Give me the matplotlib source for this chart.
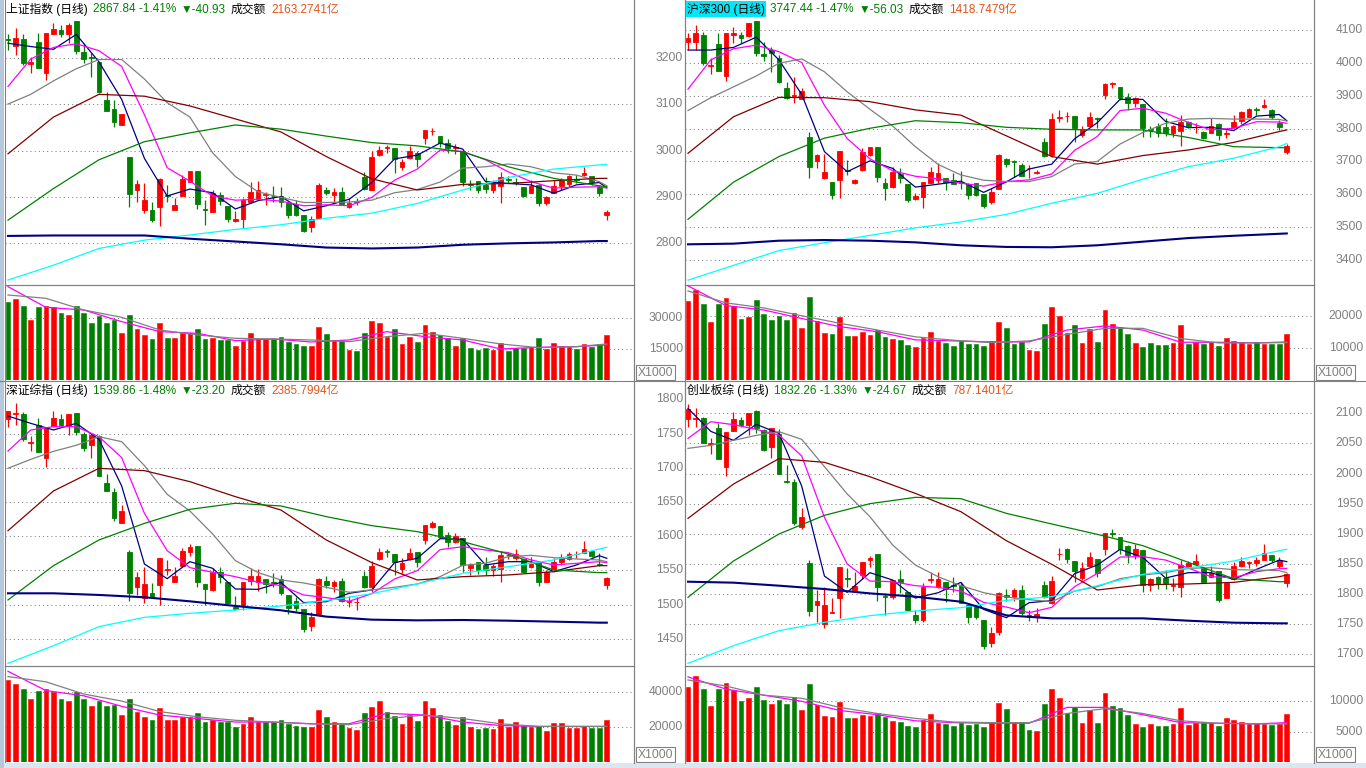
import numpy as np
import matplotlib
matplotlib.use('Agg')
import matplotlib.pyplot as plt
from matplotlib.transforms import blended_transform_factory
from matplotlib.lines import Line2D
from matplotlib.patches import Rectangle

# ---------------- data ----------------
fast_idx = list(range(0, 79, 3)) + [79]
slow_idx = list(range(0, 79, 6)) + [79]
vol_idx = list(range(0, 79, 5)) + [79]

# 上证指数
sh_o = [3240, 3226, 3240, 3186, 3233, 3166, 3250, 3260, 3250, 3279, 3213, 3201, 3191, 3109, 3089, 3054, 2985, 2915, 2872, 2872,
        2879, 2904, 2872, 2902, 2933, 2956, 2873, 2868, 2904, 2881, 2849, 2852, 2890, 2896, 2904, 2903, 2901, 2886, 2885, 2861,
        2835, 2855, 2916, 2904, 2911, 2879, 2891, 2944, 2916, 2990, 3006, 3005, 2965, 2983, 2994, 3026, 3041, 3031, 3017, 3006,
        2998, 2927, 2934, 2926, 2915, 2924, 2939, 2933, 2921, 2909, 2926, 2886, 2909, 2924, 2927, 2939, 2947, 2945, 2922, 2861]
sh_c = [3239, 3242, 3189, 3190, 3178, 3254, 3261, 3250, 3270, 3215, 3197, 3199, 3125, 3086, 3062, 3078, 2906, 2927, 2893, 2850,
        2939, 2901, 2883, 2939, 2956, 2884, 2871, 2908, 2892, 2853, 2853, 2893, 2910, 2915, 2906, 2901, 2890, 2861, 2861, 2827,
        2853, 2926, 2908, 2911, 2885, 2888, 2889, 2917, 2987, 3001, 3008, 2982, 2976, 2998, 2981, 3044, 3042, 3016, 3005, 3008,
        2933, 2926, 2916, 2917, 2931, 2942, 2937, 2931, 2901, 2924, 2888, 2899, 2924, 2937, 2945, 2937, 2952, 2932, 2909, 2868]
sh_h = [3252, 3263, 3252, 3201, 3254, 3254, 3274, 3270, 3274, 3279, 3231, 3209, 3191, 3127, 3109, 3078, 2985, 2937, 2929, 2890,
        2940, 2926, 2897, 2947, 2956, 2956, 2893, 2915, 2911, 2881, 2869, 2897, 2932, 2934, 2911, 2924, 2922, 2890, 2893, 2861,
        2859, 2929, 2922, 2919, 2922, 2897, 2897, 2953, 2998, 3010, 3012, 3005, 2981, 3010, 2998, 3044, 3048, 3031, 3024, 3013,
        2998, 2937, 2934, 2944, 2937, 2953, 2946, 2940, 2921, 2937, 2927, 2903, 2937, 2940, 2947, 2947, 2964, 2945, 2926, 2872]
sh_l = [3216, 3206, 3184, 3168, 3178, 3152, 3250, 3244, 3231, 3208, 3188, 3158, 3123, 3086, 3051, 3054, 2878, 2890, 2866, 2845,
        2837, 2890, 2872, 2901, 2933, 2874, 2840, 2868, 2883, 2847, 2847, 2834, 2888, 2893, 2883, 2890, 2879, 2854, 2858, 2824,
        2825, 2855, 2904, 2886, 2885, 2876, 2883, 2915, 2916, 2989, 2995, 2951, 2958, 2982, 2965, 3014, 3033, 3008, 2994, 2993,
        2924, 2915, 2909, 2909, 2908, 2888, 2931, 2926, 2899, 2908, 2881, 2883, 2908, 2915, 2922, 2931, 2945, 2926, 2903, 2850]
sh_vol = [37906, 39357, 35970, 29195, 35325, 35970, 35325, 32583, 31615, 35970, 32583, 27744, 31131, 27744, 29195, 22905,
          31615, 24840, 21937, 20001, 27744, 20485, 20485, 22905, 22905, 24840, 20001, 20485, 19517, 19517, 16614, 19033,
          22905, 20001, 20001, 20001, 20969, 18550, 17582, 16614, 16614, 25808, 22421, 19517, 19033, 14678, 14194, 22905,
          28711, 27744, 20969, 24679, 17582, 21130, 18550, 26776, 23227, 21937, 20485, 16614, 20485, 15646, 14678, 15646,
          14678, 18066, 14194, 15646, 15646, 16130, 20485, 15162, 18066, 16614, 16130, 15162, 17582, 16130, 17582, 21937]
sh_ma5 = [3231, 3224, 3218, 3250, 3191, 3110, 2983, 2902, 2917, 2909, 2874, 2892, 2901, 2870, 2881, 2895, 2931, 2982,
          2990, 3016, 3003, 2933, 2929, 2926, 2908, 2926, 2931, 2920]
sh_ma10 = [3138, 3197, 3222, 3230, 3215, 3181, 3077, 2963, 2934, 2902, 2893, 2895, 2891, 2881, 2883, 2881, 2899, 2936,
           2960, 3001, 2998, 2980, 2954, 2933, 2919, 2921, 2922, 2919]
sh_ma20 = [3100, 3121, 3150, 3176, 3196, 3196, 3154, 3103, 3072, 2995, 2944, 2911, 2899, 2888, 2888, 2889, 2893, 2909,
           2916, 2932, 2962, 2965, 2971, 2965, 2952, 2947, 2933, 2924]
sh_ma30 = [2993, 3072, 3121, 3117, 3096, 3068, 3040, 2987, 2939, 2915, 2927, 2929, 2935, 2940, 2940]
sh_ma60 = [2850, 2918, 2980, 3019, 3038, 3055, 3046, 3031, 3017, 3010, 2997, 2965, 2940, 2924, 2922]
sh_ma120 = [2721, 2753, 2789, 2807, 2818, 2830, 2840, 2854, 2865, 2886, 2915, 2942, 2960, 2969, 2970]
sh_ma250 = [2816, 2817, 2817, 2817, 2810, 2804, 2798, 2791, 2789, 2791, 2797, 2800, 2802, 2805, 2805]
sh_vma5 = [45325, 35325, 34034, 28389, 23550, 22743, 19195, 20001, 18550, 19517, 23550, 21130, 19517, 15162, 15969, 16291, 17098]
sh_vma10 = [41293, 39680, 34034, 30486, 24357, 21937, 20324, 20001, 19517, 18711, 21130, 22743, 20324, 17582, 15807, 16291, 17582]

# 沪深300
hs_o = [4065, 4065, 4085, 3991, 4056, 3960, 4085, 4085, 4082, 4128, 4026, 4039, 4014, 3923, 3899, 3889, 3776, 3701, 3651, 3639,
        3644, 3674, 3634, 3674, 3720, 3745, 3634, 3621, 3662, 3631, 3587, 3593, 3634, 3644, 3649, 3644, 3639, 3632, 3636, 3601,
        3578, 3616, 3707, 3701, 3689, 3679, 3664, 3760, 3720, 3833, 3837, 3838, 3781, 3808, 3832, 3902, 3937, 3926, 3897, 3877,
        3874, 3798, 3809, 3806, 3786, 3794, 3819, 3804, 3791, 3788, 3814, 3783, 3806, 3823, 3836, 3861, 3865, 3857, 3818, 3730]
hs_c = [4077, 4090, 4001, 3994, 3976, 4090, 4090, 4075, 4122, 4029, 4022, 4031, 3943, 3892, 3902, 3915, 3684, 3720, 3667, 3598,
        3732, 3670, 3644, 3728, 3745, 3652, 3618, 3669, 3651, 3583, 3595, 3637, 3669, 3665, 3639, 3631, 3636, 3598, 3598, 3565,
        3608, 3720, 3692, 3698, 3657, 3681, 3669, 3717, 3829, 3835, 3839, 3803, 3798, 3834, 3829, 3936, 3939, 3894, 3877, 3892,
        3801, 3795, 3786, 3788, 3808, 3821, 3808, 3806, 3770, 3808, 3781, 3788, 3819, 3850, 3860, 3858, 3872, 3836, 3806, 3747]
hs_h = [4090, 4115, 4095, 4014, 4090, 4090, 4108, 4095, 4122, 4128, 4065, 4049, 4024, 3943, 3956, 3923, 3791, 3723, 3722, 3639,
        3732, 3705, 3647, 3740, 3745, 3745, 3649, 3684, 3679, 3631, 3603, 3639, 3684, 3694, 3649, 3666, 3672, 3636, 3636, 3601,
        3620, 3723, 3710, 3705, 3694, 3689, 3674, 3770, 3847, 3857, 3852, 3838, 3809, 3852, 3834, 3938, 3943, 3926, 3907, 3897,
        3874, 3808, 3816, 3831, 3811, 3841, 3824, 3816, 3793, 3831, 3818, 3796, 3841, 3854, 3862, 3865, 3890, 3859, 3826, 3753]
hs_l = [4039, 4039, 3994, 3966, 3976, 3946, 4060, 4060, 4080, 4021, 4007, 3973, 3940, 3889, 3877, 3889, 3649, 3679, 3646, 3586,
        3590, 3659, 3632, 3672, 3718, 3639, 3583, 3618, 3636, 3578, 3583, 3557, 3634, 3634, 3613, 3631, 3615, 3585, 3595, 3557,
        3571, 3616, 3684, 3654, 3657, 3649, 3662, 3715, 3715, 3821, 3821, 3760, 3774, 3806, 3801, 3889, 3923, 3887, 3857, 3865,
        3776, 3776, 3776, 3778, 3774, 3747, 3801, 3788, 3768, 3788, 3765, 3770, 3801, 3814, 3834, 3841, 3862, 3829, 3796, 3722]
hs_vol = [24430, 28010, 23798, 18112, 23798, 25377, 23166, 19059, 19691, 24746, 20639, 18743, 20007, 18743, 20849, 16216,
          25693, 18428, 14637, 14321, 19691, 13689, 13689, 14953, 14005, 15584, 13478, 12741, 12425, 10846, 10319, 13163,
          14847, 12110, 11583, 10741, 12215, 11372, 11372, 10530, 12110, 18112, 16322, 11372, 11899, 9266, 8951, 17480,
          22850, 20007, 14742, 17164, 11583, 15900, 11794, 21902, 17480, 16532, 14321, 11583, 10214, 11583, 10846, 10846,
          11583, 17164, 11162, 11794, 11372, 11794, 10530, 13057, 12320, 11794, 11267, 11794, 11267, 11267, 11267, 14426]
hs_ma5 = [4039, 4039, 4047, 4078, 4009, 3904, 3730, 3669, 3702, 3679, 3622, 3631, 3640, 3606, 3638, 3677, 3692, 3769,
          3818, 3889, 3889, 3822, 3803, 3804, 3794, 3838, 3843, 3824]
hs_ma10 = [3920, 4009, 4043, 4054, 4034, 4001, 3871, 3770, 3708, 3672, 3655, 3647, 3634, 3625, 3639, 3644, 3662, 3734,
           3776, 3855, 3862, 3847, 3819, 3796, 3801, 3821, 3820, 3816]
hs_ma20 = [3855, 3894, 3927, 3960, 3999, 4012, 3973, 3912, 3859, 3808, 3745, 3691, 3659, 3643, 3639, 3639, 3654, 3692,
           3700, 3753, 3788, 3816, 3829, 3831, 3829, 3829, 3828, 3823]
hs_ma30 = [3725, 3836, 3895, 3894, 3882, 3857, 3841, 3778, 3715, 3692, 3718, 3735, 3758, 3791, 3796]
hs_ma60 = [3524, 3637, 3715, 3771, 3801, 3824, 3818, 3804, 3798, 3796, 3796, 3773, 3745, 3742, 3742]
hs_ma120 = [3339, 3384, 3429, 3453, 3475, 3498, 3516, 3539, 3573, 3603, 3646, 3684, 3710, 3745, 3755]
hs_ma250 = [3448, 3450, 3459, 3461, 3459, 3454, 3445, 3440, 3439, 3445, 3456, 3467, 3474, 3480, 3481]
hs_vma5 = [29273, 23166, 21797, 19165, 16637, 15058, 12530, 12215, 11899, 11899, 15584, 16848, 15584, 11794, 11794, 11583, 11899]
hs_vma10 = [27694, 24008, 22429, 20007, 17690, 15584, 13478, 12425, 11688, 12215, 14216, 16111, 16111, 12952, 11583, 11583, 11688]

# 深证综指
sz_o = [1770.7, 1778.0, 1778.0, 1736.7, 1762.5, 1714.8, 1761.5, 1771.2, 1761.5, 1779.5, 1749.3, 1733.3, 1746.4, 1677.3,
        1665.1, 1618.8, 1577.4, 1526.3, 1509.3, 1516.6, 1528.8, 1551.2, 1533.6, 1556.5, 1577.4, 1585.7, 1530.2, 1521.5,
        1548.2, 1533.6, 1497.1, 1498.1, 1534.6, 1533.6, 1537.0, 1533.6, 1537.0, 1514.2, 1505.9, 1493.2, 1468.9, 1484.9,
        1534.6, 1527.8, 1534.6, 1503.9, 1503.4, 1541.9, 1526.3, 1566.7, 1578.0, 1574.0, 1552.1, 1566.2, 1576.5, 1594.5,
        1614.0, 1615.0, 1601.8, 1592.1, 1596.9, 1553.1, 1561.9, 1558.0, 1550.7, 1551.6, 1572.1, 1568.7, 1566.2, 1554.6,
        1562.8, 1533.6, 1552.1, 1562.8, 1566.7, 1573.5, 1576.0, 1578.9, 1559.4, 1528.8]
sz_c = [1782.9, 1779.5, 1741.5, 1738.1, 1723.5, 1760.0, 1773.2, 1762.5, 1778.5, 1752.7, 1728.4, 1747.9, 1688.5, 1666.1,
        1626.1, 1636.8, 1516.6, 1540.0, 1530.2, 1511.7, 1567.7, 1552.1, 1541.9, 1578.4, 1584.8, 1533.6, 1522.4, 1547.3,
        1540.9, 1503.0, 1493.2, 1532.6, 1541.9, 1541.9, 1530.2, 1532.2, 1516.6, 1494.7, 1495.6, 1464.0, 1482.5, 1537.5,
        1528.8, 1533.1, 1505.9, 1505.4, 1504.4, 1526.3, 1556.5, 1576.5, 1577.0, 1561.9, 1561.4, 1576.0, 1562.8, 1616.4,
        1619.8, 1599.4, 1591.1, 1600.8, 1558.0, 1558.0, 1550.7, 1550.7, 1556.5, 1572.6, 1573.1, 1574.0, 1548.2, 1559.4,
        1532.6, 1547.3, 1562.8, 1570.1, 1574.0, 1574.5, 1581.3, 1571.6, 1558.0, 1538.5]
sz_h = [1782.9, 1794.1, 1781.0, 1746.4, 1772.2, 1760.0, 1782.9, 1778.0, 1778.5, 1779.5, 1752.7, 1750.3, 1747.9, 1690.4,
        1670.0, 1645.6, 1579.9, 1548.2, 1554.6, 1531.2, 1567.7, 1565.3, 1555.5, 1582.3, 1588.2, 1585.7, 1530.2, 1553.1,
        1554.6, 1533.6, 1512.7, 1533.6, 1553.1, 1552.1, 1537.0, 1545.8, 1543.4, 1514.2, 1510.8, 1493.2, 1489.8, 1538.5,
        1541.9, 1536.1, 1538.5, 1512.7, 1511.7, 1549.2, 1563.8, 1582.3, 1580.9, 1574.0, 1567.7, 1582.3, 1576.5, 1616.4,
        1622.2, 1615.0, 1605.7, 1604.2, 1596.9, 1560.4, 1562.8, 1569.2, 1559.0, 1578.4, 1576.0, 1581.3, 1566.2, 1570.1,
        1562.8, 1550.7, 1568.7, 1573.5, 1577.4, 1578.4, 1593.0, 1579.9, 1575.0, 1540.9]
sz_l = [1760.0, 1762.5, 1739.1, 1725.0, 1723.5, 1701.6, 1760.0, 1761.5, 1747.9, 1747.9, 1725.0, 1713.8, 1688.5, 1666.1,
        1622.7, 1618.8, 1505.9, 1514.2, 1503.0, 1509.3, 1499.6, 1543.4, 1532.6, 1555.5, 1571.6, 1526.3, 1499.6, 1520.5,
        1532.2, 1501.0, 1492.2, 1492.2, 1528.8, 1520.5, 1516.6, 1526.3, 1514.2, 1486.4, 1491.3, 1459.6, 1462.1, 1484.9,
        1523.9, 1518.0, 1504.4, 1497.1, 1492.2, 1523.9, 1519.0, 1565.3, 1570.1, 1543.4, 1546.8, 1565.3, 1554.6, 1588.2,
        1611.5, 1598.4, 1584.7, 1589.6, 1547.3, 1543.4, 1544.3, 1543.4, 1542.4, 1532.6, 1566.7, 1565.3, 1547.3, 1553.1,
        1527.8, 1532.6, 1550.7, 1558.0, 1565.3, 1567.7, 1575.0, 1570.1, 1557.0, 1522.9]
sz_vol = [47000, 45000, 42000, 36000, 41000, 42000, 40000, 36000, 35000, 40000, 36000, 32000, 35000, 32000, 33000, 27000,
          36000, 29000, 26000, 24000, 31000, 24000, 24000, 26000, 26000, 28000, 23000, 24000, 23000, 23000, 20000, 22000,
          26000, 23000, 23000, 23000, 24000, 22000, 21000, 20000, 20000, 30000, 26000, 23000, 22000, 19812, 18479, 28385,
          31814, 35243, 28766, 26670, 21908, 27051, 23622, 35243, 30861, 27051, 23622, 21336, 25718, 20003, 19050, 19622,
          19050, 24575, 20384, 23051, 21336, 20003, 20955, 17907, 22289, 22289, 19622, 19622, 20955, 19812, 19812, 24193]
sz_ma5 = [1775.6, 1764.9, 1755.2, 1764.9, 1741.5, 1673.4, 1559.4, 1538.0, 1562.8, 1553.1, 1522.9, 1522.4, 1532.6, 1503.0,
          1504.4, 1516.6, 1521.5, 1561.4, 1567.7, 1596.4, 1595.5, 1558.0, 1562.8, 1562.8, 1548.2, 1558.0, 1571.6, 1567.7]
sz_ma10 = [1724.5, 1755.2, 1760.0, 1760.0, 1745.4, 1714.8, 1633.4, 1578.9, 1554.1, 1547.3, 1540.9, 1532.6, 1527.8, 1514.2,
           1510.3, 1504.9, 1516.1, 1537.5, 1549.7, 1580.4, 1584.7, 1579.9, 1576.0, 1565.3, 1558.0, 1560.4, 1562.8, 1561.4]
sz_ma20 = [1699.2, 1712.3, 1724.0, 1732.8, 1745.4, 1738.1, 1703.1, 1661.2, 1636.8, 1603.3, 1564.3, 1546.8, 1536.1, 1531.7,
           1525.4, 1518.1, 1521.5, 1525.4, 1530.2, 1540.9, 1557.5, 1560.4, 1570.1, 1572.1, 1568.7, 1566.7, 1565.3, 1562.8]
sz_ma30 = [1608.1, 1666.1, 1699.2, 1695.8, 1679.7, 1657.8, 1638.3, 1594.5, 1561.4, 1536.1, 1540.9, 1543.4, 1548.2, 1557.0, 1557.0]
sz_ma60 = [1506.9, 1557.0, 1594.5, 1618.8, 1639.3, 1648.1, 1644.2, 1628.6, 1615.4, 1606.7, 1592.1, 1574.0, 1550.7, 1546.8, 1546.8]
sz_ma120 = [1414.3, 1440.1, 1467.9, 1481.5, 1487.4, 1492.2, 1498.1, 1505.9, 1516.1, 1530.2, 1545.8, 1555.5, 1565.3, 1581.3, 1583.8]
sz_ma250 = [1516.6, 1516.6, 1514.2, 1510.8, 1504.9, 1498.1, 1491.8, 1482.5, 1478.1, 1477.1, 1477.6, 1476.6, 1475.2, 1473.7, 1473.7]
sz_vma5 = [52000, 41000, 38000, 32000, 27000, 25000, 23000, 23000, 22000, 22000, 28000, 27000, 23000, 21000, 20500, 20500, 20500]
sz_vma10 = [49000, 46000, 39000, 35000, 29000, 26000, 24000, 23000, 22000, 21500, 25000, 27000, 25000, 22000, 20500, 20500, 20500]

# 创业板综
cy_o = [2090.0, 2091.1, 2091.7, 2048.5, 2075.1, 2011.4, 2071.2, 2088.9, 2080.6, 2104.4, 2072.3, 2044.6, 2065.7, 1987.5,
        1986.4, 1911.6, 1851.8, 1781.5, 1749.9, 1768.7, 1792.5, 1825.8, 1804.7, 1831.3, 1856.2, 1865.7, 1796.4, 1795.3,
        1824.1, 1803.6, 1764.8, 1756.5, 1823.0, 1811.9, 1819.1, 1814.7, 1814.7, 1781.5, 1777.6, 1756.5, 1717.7, 1737.1,
        1798.1, 1794.2, 1806.4, 1764.8, 1760.9, 1814.7, 1784.2, 1865.7, 1874.5, 1854.6, 1825.8, 1846.8, 1857.9, 1874.0,
        1901.1, 1893.9, 1880.1, 1864.6, 1872.9, 1814.7, 1828.5, 1825.8, 1813.0, 1811.9, 1845.2, 1849.0, 1843.5, 1828.5,
        1838.0, 1793.6, 1824.1, 1846.8, 1851.8, 1851.8, 1856.2, 1864.6, 1846.8, 1817.5]
cy_c = [2106.6, 2092.8, 2050.1, 2050.1, 2023.5, 2068.4, 2090.0, 2080.6, 2100.0, 2075.1, 2039.1, 2075.1, 1998.6, 1985.3,
        1917.2, 1928.3, 1772.0, 1788.7, 1781.5, 1770.4, 1844.1, 1824.1, 1813.0, 1853.5, 1860.1, 1810.8, 1795.3, 1823.0,
        1819.1, 1773.1, 1756.5, 1811.9, 1824.1, 1824.1, 1808.0, 1813.0, 1785.3, 1762.1, 1761.0, 1713.3, 1734.4, 1800.8,
        1794.7, 1806.4, 1767.6, 1760.9, 1766.5, 1794.2, 1821.3, 1866.8, 1857.9, 1838.0, 1842.4, 1861.8, 1835.2, 1900.6,
        1900.0, 1874.5, 1864.6, 1874.5, 1814.7, 1824.1, 1817.5, 1817.5, 1814.1, 1847.9, 1850.7, 1854.6, 1820.2, 1835.2,
        1789.8, 1818.6, 1846.3, 1854.6, 1852.9, 1856.2, 1868.4, 1856.2, 1856.2, 1832.4]
cy_h = [2115.5, 2108.3, 2093.4, 2058.4, 2083.4, 2068.4, 2102.8, 2094.5, 2100.0, 2105.5, 2073.4, 2075.1, 2073.4, 2014.1,
        1990.3, 1942.1, 1856.2, 1806.4, 1811.9, 1792.5, 1845.2, 1842.4, 1836.9, 1853.5, 1863.4, 1865.7, 1800.8, 1823.0,
        1839.6, 1803.6, 1773.1, 1818.6, 1836.9, 1836.9, 1820.2, 1828.5, 1820.2, 1784.2, 1781.5, 1756.5, 1745.4, 1803.6,
        1807.5, 1810.3, 1814.7, 1773.1, 1775.9, 1821.3, 1829.6, 1875.6, 1875.6, 1854.6, 1853.5, 1870.1, 1857.9, 1900.6,
        1907.2, 1893.9, 1881.2, 1882.8, 1872.9, 1826.9, 1829.6, 1839.6, 1826.9, 1856.2, 1854.6, 1866.2, 1845.2, 1846.3,
        1838.0, 1818.6, 1853.5, 1861.8, 1854.6, 1861.8, 1882.8, 1864.6, 1861.8, 1835.2]
cy_l = [2076.7, 2077.8, 2050.1, 2032.4, 2023.5, 1996.4, 2071.2, 2077.8, 2064.0, 2067.9, 2037.4, 2025.2, 1998.6, 1983.7,
        1914.4, 1907.8, 1763.7, 1753.8, 1742.7, 1767.6, 1759.3, 1811.9, 1803.6, 1824.7, 1845.2, 1788.7, 1764.8, 1790.9,
        1800.8, 1772.0, 1752.1, 1753.8, 1817.5, 1809.2, 1785.9, 1803.6, 1784.2, 1751.0, 1757.6, 1707.8, 1712.2, 1731.6,
        1788.7, 1788.7, 1764.8, 1755.4, 1753.8, 1792.5, 1782.6, 1856.2, 1850.7, 1820.2, 1823.0, 1846.3, 1828.5, 1864.6,
        1893.9, 1866.2, 1851.8, 1857.9, 1803.6, 1805.3, 1807.5, 1807.5, 1805.3, 1794.2, 1843.5, 1847.9, 1819.1, 1827.4,
        1787.0, 1792.5, 1823.0, 1845.2, 1843.5, 1846.3, 1856.2, 1853.5, 1843.5, 1811.9]
cy_vol = [12400, 14100, 12000, 9300, 12000, 13000, 11800, 10000, 10500, 12400, 10200, 9600, 10200, 9600, 10700, 8500,
          12800, 9400, 7600, 7500, 9900, 7300, 7300, 7800, 7600, 8100, 7400, 6800, 6600, 6000, 5800, 7000,
          7900, 6500, 6300, 6000, 6500, 6100, 6200, 5800, 6600, 9800, 8800, 6400, 6500, 5300, 5200, 9500,
          12000, 10500, 8100, 9000, 6500, 8600, 6400, 11300, 9300, 8900, 7700, 6300, 5800, 6300, 6000, 6000,
          6300, 8900, 6100, 6500, 6400, 6500, 5900, 7300, 7000, 6600, 6300, 6400, 6200, 6100, 6200, 7900]
cy_ma5 = [2108.3, 2070.1, 2055.1, 2081.7, 2066.8, 1979.2, 1829.6, 1802.5, 1835.2, 1823.0, 1793.1, 1801.9, 1819.1, 1774.2,
          1760.4, 1785.3, 1788.7, 1833.5, 1847.9, 1874.0, 1860.7, 1826.3, 1835.2, 1835.2, 1824.1, 1840.7, 1856.2, 1853.5]
cy_ma10 = [2058.4, 2086.2, 2081.2, 2073.4, 2064.0, 2029.1, 1927.2, 1849.6, 1821.3, 1820.2, 1813.6, 1810.8, 1804.7, 1785.9,
           1778.1, 1768.7, 1777.6, 1811.9, 1834.1, 1861.2, 1861.8, 1856.2, 1842.9, 1828.5, 1826.9, 1836.9, 1841.8, 1842.4]
cy_ma20 = [2041.8, 2046.8, 2055.1, 2063.4, 2069.5, 2056.8, 2011.4, 1966.1, 1928.3, 1881.2, 1847.9, 1828.5, 1813.6, 1802.0,
           1794.7, 1790.3, 1787.0, 1804.7, 1811.9, 1825.2, 1831.3, 1835.2, 1842.4, 1843.5, 1840.2, 1839.6, 1838.5, 1835.2]
cy_ma30 = [1925.5, 1982.5, 2024.7, 2018.6, 1994.7, 1967.0, 1936.6, 1888.4, 1849.0, 1806.4, 1815.2, 1816.4, 1819.1, 1828.5, 1831.3]
cy_ma60 = [1794.2, 1854.6, 1899.5, 1930.5, 1949.9, 1960.4, 1958.2, 1933.8, 1916.1, 1898.9, 1880.1, 1852.4, 1825.2, 1820.2, 1820.2]
cy_ma120 = [1684.5, 1713.9, 1738.8, 1752.6, 1763.7, 1771.5, 1777.0, 1789.2, 1795.3, 1813.6, 1832.4, 1842.9, 1854.6, 1871.8, 1874.0]
cy_ma250 = [1820.2, 1818.6, 1813.6, 1808.0, 1800.8, 1795.3, 1787.0, 1764.3, 1759.3, 1759.3, 1759.3, 1755.4, 1752.1, 1751.0, 1751.0]
cy_vma5 = [14000, 12000, 11000, 10000, 8500, 7800, 6800, 6500, 6400, 6400, 9000, 9000, 7800, 6500, 6400, 6300, 6500]
cy_vma10 = [13500, 12500, 11000, 10500, 9000, 8000, 7200, 6600, 6500, 6500, 8000, 8800, 8000, 6800, 6400, 6300, 6300]

# ---------------- drawing ----------------
W, H = 1366, 768
fig = plt.figure(figsize=(W / 100, H / 100), dpi=100)
fig.patch.set_facecolor('white')

RED = '#ff0000'
GREEN = '#008000'
GRAY = '#808080'
ORANGE = '#e0561c'
LBL_FONT = ['Liberation Sans', 'DejaVu Sans']
TTL_FONT = ['Liberation Sans', 'Noto Sans CJK SC', 'DejaVu Sans']


def px_axes(x, y, w, h):
    ax = fig.add_axes([x / W, 1 - (y + h) / H, w / W, h / H])
    ax.set_xticks([])
    ax.set_yticks([])
    ax.set_facecolor('none')
    for s in ax.spines.values():
        s.set_color(GRAY)
        s.set_linewidth(0.8)
    return ax


def grid_label(ax, val, text, grid=True):
    if grid:
        ax.axhline(val, color=GRAY, lw=0.75, ls=(0, (1, 3)), zorder=0)
    tr = blended_transform_factory(ax.transAxes, ax.transData)
    ax.text(1.078, val, text, transform=tr, ha='right', va='center',
            fontsize=8.7, color=GRAY, family=LBL_FONT)


def draw_panel(qx, ptop, pbot, vbot, o, h, l, c, vol, fast, slow, vma, plim, vlim, plabels, nogrid, vlabels):
    o, h, l, c, vol = map(np.asarray, (o, h, l, c, vol))
    x = np.arange(len(o))
    cols = np.where(c >= o, RED, GREEN)
    axp = px_axes(qx + 5, ptop, 629, pbot - ptop)
    axv = px_axes(qx + 5, pbot, 629, vbot - pbot)
    axp.spines['top'].set_visible(False)
    axv.spines['bottom'].set_visible(False)
    for ax in (axp, axv):
        ax.set_xlim(-0.396, 82.59)
    axp.set_ylim(*plim)
    axv.set_ylim(*vlim)

    for p in plabels:
        grid_label(axp, p, str(p), p not in nogrid)
    for v in vlabels:
        grid_label(axv, v, str(v))

    # candles
    axp.vlines(x, l, h, colors=cols, lw=0.9, zorder=2)
    axp.bar(x, np.abs(c - o), bottom=np.minimum(o, c), width=0.62, color=cols,
            edgecolor=cols, linewidth=0.6, zorder=3)
    # moving averages
    ma_colors = ['#000080', '#ff00ff', GRAY]
    for vals, col in zip(fast, ma_colors):
        axp.plot(fast_idx, vals, color=col, lw=0.9, zorder=4)
    slow_colors = ['#800000', '#008000', '#00ffff', '#000080']
    slow_lw = [0.9, 0.9, 0.9, 1.5]
    for vals, col, lw in zip(slow, slow_colors, slow_lw):
        axp.plot(slow_idx, vals, color=col, lw=lw, zorder=4)

    # volume
    axv.bar(x, vol, width=0.62, color=cols, edgecolor=cols, linewidth=0.4, zorder=2)
    axv.plot(vol_idx, vma[0], color='#ff00ff', lw=0.9, zorder=3)
    axv.plot(vol_idx, vma[1], color=GRAY, lw=0.9, zorder=3)
    axv.text(650.5 / 629, 7.5 / (vbot - pbot), 'X1000',
             transform=axv.transAxes, ha='center', va='center', fontsize=8.7, color=GRAY,
             family=LBL_FONT, clip_on=False,
             bbox=dict(boxstyle='square,pad=0.12', facecolor='white', edgecolor=GRAY, lw=0.8))
    return axp, axv


draw_panel(0, 0, 285, 380.3, sh_o, sh_h, sh_l, sh_c, sh_vol,
           [sh_ma5, sh_ma10, sh_ma20], [sh_ma30, sh_ma60, sh_ma120, sh_ma250], [sh_vma5, sh_vma10],
           (2710.3, 3324.2), (0, 46125), [3200, 3100, 3000, 2900, 2800], [], [30000, 15000])
draw_panel(680, 0, 285, 380.3, hs_o, hs_h, hs_l, hs_c, hs_vol,
           [hs_ma5, hs_ma10, hs_ma20], [hs_ma30, hs_ma60, hs_ma120, hs_ma250], [hs_vma5, hs_vma10],
           (3324.2, 4191.3), (0, 29540), [4100, 4000, 3900, 3800, 3700, 3600, 3500, 3400], [], [20000, 10000])
draw_panel(0, 382, 666, 762.3, sz_o, sz_h, sz_l, sz_c, sz_vol,
           [sz_ma5, sz_ma10, sz_ma20], [sz_ma30, sz_ma60, sz_ma120, sz_ma250], [sz_vma5, sz_vma10],
           (1410.4, 1825.3), (0, 55030), [1800, 1750, 1700, 1650, 1600, 1550, 1500, 1450], [1800], [40000, 20000])
draw_panel(680, 382, 666, 762.3, cy_o, cy_h, cy_l, cy_c, cy_vol,
           [cy_ma5, cy_ma10, cy_ma20], [cy_ma30, cy_ma60, cy_ma120, cy_ma250], [cy_vma5, cy_vma10],
           (1680.1, 2152.1), (0, 15785), [2100, 2050, 2000, 1950, 1900, 1850, 1800, 1750, 1700], [], [10000, 5000])


# frame lines
def fline(x0, y0, x1, y1, color=GRAY, lw=0.8):
    fig.add_artist(Line2D([x0 / W, x1 / W], [1 - y0 / H, 1 - y1 / H], color=color, lw=lw))


fline(0, 381, W, 381)
for xv in (634, 685, 1314):
    fline(xv, 0, xv, 763)
fig.add_artist(Rectangle((0, 0), 1, 5.5 / H, transform=fig.transFigure, facecolor='#dce6f0', edgecolor='none'))
fig.add_artist(Rectangle((0, 0), 3.5 / W, 1, transform=fig.transFigure, facecolor='#b8c8dc', edgecolor='none'))

# titles
renderer = fig.canvas.get_renderer()


def title(x, y, parts, first_bg=None):
    xf = x / W
    yf = 1 - y / H
    for i, (s, col) in enumerate(parts):
        kw = {}
        if i == 0 and first_bg:
            kw['bbox'] = dict(boxstyle='square,pad=0.1', facecolor=first_bg, edgecolor='none')
        t = fig.text(xf, yf, s, color=col, fontsize=8.5, family=TTL_FONT, va='baseline', ha='left', **kw)
        bb = t.get_window_extent(renderer)
        xf = (bb.x1 + 5) / W


title(6, 12.5, [('上证指数 (日线)', 'black'), ('2867.84 -1.41%', GREEN), ('▼-40.93', GREEN),
                ('成交额', 'black'), ('2163.2741亿', ORANGE)])
title(687, 12.5, [('沪深300 (日线)', 'black'), ('3747.44 -1.47%', GREEN), ('▼-56.03', GREEN),
                  ('成交额', 'black'), ('1418.7479亿', ORANGE)], first_bg='#00e8f8')
title(6, 394, [('深证综指 (日线)', 'black'), ('1539.86 -1.48%', GREEN), ('▼-23.20', GREEN),
               ('成交额', 'black'), ('2385.7994亿', ORANGE)])
title(687, 394, [('创业板综 (日线)', 'black'), ('1832.26 -1.33%', GREEN), ('▼-24.67', GREEN),
                 ('成交额', 'black'), ('787.1401亿', ORANGE)])

fig.savefig('out.png', dpi=100)
